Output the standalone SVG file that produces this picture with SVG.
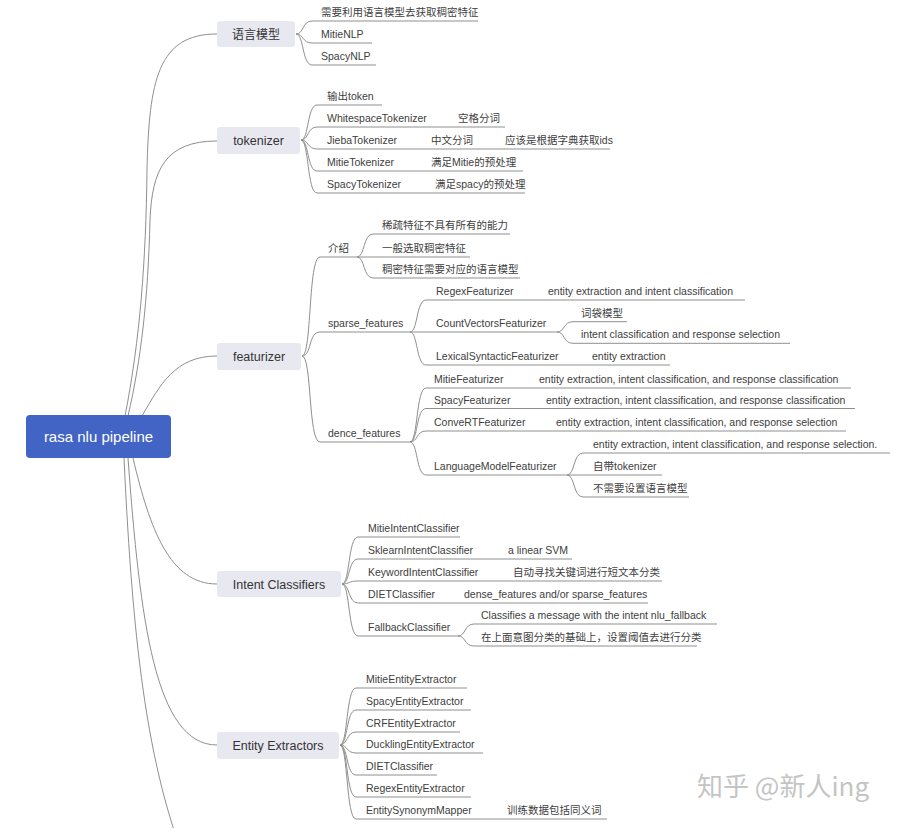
<svg xmlns="http://www.w3.org/2000/svg" width="900" height="828" viewBox="0 0 900 828">
<style>
.t{font-family:"Liberation Sans","Noto Sans CJK SC",sans-serif;font-size:10.5px;fill:#404040}
.b{font-family:"Liberation Sans","Noto Sans CJK SC",sans-serif;font-size:12.5px;fill:#333;text-anchor:middle}
.bx{fill:#E8E8F1}
.ln{fill:none;stroke:#8f8f8f;stroke-width:1}
.wm{font-family:"Noto Sans CJK SC",sans-serif;font-size:26px;fill:#c4c4c4}
</style>
<rect width="900" height="828" fill="#ffffff"/>
<g id="connectors" class="ln">
<path d="M125,416 C140,340 146,260 147,170 C149,80 158,34 217,34"/>
<path d="M128,416 C141,360 148,300 150,220 C152,170 165,141 217,141"/>
<path d="M142,416 C160,385 175,356 217,356"/>
<path d="M133,458 C150,530 170,584 217,584"/>
<path d="M128,458 C140,620 155,745 217,745"/>
<path d="M124,458 C133,650 148,780 195,885"/>
<path d="M296,34 C304,34 302,21 312,21 H478"/>
<path d="M296,34 C304,34 302,43 312,43 H372"/>
<path d="M296,34 C304,34 302,65 312,65 H376"/>
<path d="M301,140 C309,140 307,105 317,105 H382"/>
<path d="M301,140 C309,140 307,127 317,127 H505"/>
<path d="M301,140 C309,140 307,149 317,149 H610"/>
<path d="M301,140 C309,140 307,171 317,171 H523"/>
<path d="M301,140 C309,140 307,193 317,193 H525"/>
<path d="M302,356 C312,356 308,257 320,257 H357"/>
<path d="M302,356 C312,356 308,332 320,332 H410"/>
<path d="M302,356 C312,356 308,442 320,442 H410"/>
<path d="M357,257 C365,257 363,234 373,234 H510"/>
<path d="M357,257 H470"/>
<path d="M357,257 C365,257 363,278 373,278 H520"/>
<path d="M410,332 C418,332 416,300 426,300 H745"/>
<path d="M410,332 H557"/>
<path d="M410,332 C418,332 416,365 426,365 H670"/>
<path d="M557,332 C565,332 563,321.7 573,321.7 H627"/>
<path d="M557,332 C565,332 563,343.3 573,343.3 H790"/>
<path d="M410,442 C418,442 416,388 426,388 H851"/>
<path d="M410,442 C418,442 416,408.5 426,408.5 H855"/>
<path d="M410,442 C418,442 416,431 426,431 H846"/>
<path d="M410,442 C418,442 416,475 426,475 H567"/>
<path d="M567,475 C575,475 573,453 583,453 H890"/>
<path d="M567,475 H662"/>
<path d="M567,475 C575,475 573,497 583,497 H689"/>
<path d="M342,584 C350,584 348,537 358,537 H460"/>
<path d="M342,584 C350,584 348,559 358,559 H572"/>
<path d="M342,584 C350,584 348,581 358,581 H662"/>
<path d="M342,584 C350,584 348,603 358,603 H648"/>
<path d="M342,584 C350,584 348,636 358,636 H458"/>
<path d="M458,636 C466,636 464,624 474,624 H717"/>
<path d="M458,636 C466,636 464,646 474,646 H697"/>
<path d="M340,745 C348,745 346,688 356,688 H467"/>
<path d="M340,745 C348,745 346,710 356,710 H471"/>
<path d="M340,745 C348,745 346,732 356,732 H460"/>
<path d="M340,745 C348,745 346,753 356,753 H483"/>
<path d="M340,745 C348,745 346,775 356,775 H437"/>
<path d="M340,745 C348,745 346,797 356,797 H471"/>
<path d="M340,745 C348,745 346,819 356,819 H607"/>
</g>
<g id="root"><rect x="26" y="415" width="145" height="43" rx="4" fill="#4264C5"/><text x="98.5" y="442" style="font-family:'Liberation Sans','Noto Sans CJK SC',sans-serif;font-size:15px;fill:#fff;text-anchor:middle">rasa nlu pipeline</text></g>
<g id="n-lm"><rect class="bx" x="217" y="21" width="78" height="26" rx="3"/><text class="b" x="256" y="38.5" style="font-size:12px">语言模型</text></g>
<g id="n-lm1"><text class="t" x="321" y="16">需要利用语言模型去获取稠密特征</text></g>
<g id="n-lm2"><text class="t" x="321" y="38">MitieNLP</text></g>
<g id="n-lm3"><text class="t" x="321" y="60">SpacyNLP</text></g>
<g id="n-tok"><rect class="bx" x="217" y="127" width="83" height="27" rx="3"/><text class="b" x="258.5" y="145">tokenizer</text></g>
<g id="n-tok1"><text class="t" x="327" y="100">输出token</text></g>
<g id="n-tok2"><text class="t" x="327" y="122">WhitespaceTokenizer</text></g>
<g id="n-tok2a"><text class="t" x="458" y="122">空格分词</text></g>
<g id="n-tok3"><text class="t" x="327" y="144">JiebaTokenizer</text></g>
<g id="n-tok3a"><text class="t" x="431" y="144">中文分词</text></g>
<g id="n-tok3b"><text class="t" x="505" y="144">应该是根据字典获取ids</text></g>
<g id="n-tok4"><text class="t" x="327" y="166">MitieTokenizer</text></g>
<g id="n-tok4a"><text class="t" x="431" y="166">满足Mitie的预处理</text></g>
<g id="n-tok5"><text class="t" x="327" y="188">SpacyTokenizer</text></g>
<g id="n-tok5a"><text class="t" x="435" y="188">满足spacy的预处理</text></g>
<g id="n-feat"><rect class="bx" x="217" y="343" width="84" height="27" rx="3"/><text class="b" x="259" y="361">featurizer</text></g>
<g id="n-intro"><text class="t" x="328" y="252">介绍</text></g>
<g id="n-intro1"><text class="t" x="382" y="229">稀疏特征不具有所有的能力</text></g>
<g id="n-intro2"><text class="t" x="382" y="252">一般选取稠密特征</text></g>
<g id="n-intro3"><text class="t" x="382" y="273">稠密特征需要对应的语言模型</text></g>
<g id="n-sparse"><text class="t" x="328" y="327">sparse_features</text></g>
<g id="n-sp1"><text class="t" x="436" y="295">RegexFeaturizer</text></g>
<g id="n-sp1a"><text class="t" x="548" y="295">entity extraction and intent classification</text></g>
<g id="n-sp2"><text class="t" x="436" y="327">CountVectorsFeaturizer</text></g>
<g id="n-sp2a"><text class="t" x="581" y="316.7">词袋模型</text></g>
<g id="n-sp2b"><text class="t" x="581" y="338.3">intent classification and response selection</text></g>
<g id="n-sp3"><text class="t" x="436" y="360">LexicalSyntacticFeaturizer</text></g>
<g id="n-sp3a"><text class="t" x="592" y="360">entity extraction</text></g>
<g id="n-dence"><text class="t" x="328" y="437">dence_features</text></g>
<g id="n-de1"><text class="t" x="434" y="383">MitieFeaturizer</text></g>
<g id="n-de1a"><text class="t" x="539" y="383">entity extraction, intent classification, and response classification</text></g>
<g id="n-de2"><text class="t" x="434" y="403.5">SpacyFeaturizer</text></g>
<g id="n-de2a"><text class="t" x="546" y="403.5">entity extraction, intent classification, and response classification</text></g>
<g id="n-de3"><text class="t" x="434" y="426">ConveRTFeaturizer</text></g>
<g id="n-de3a"><text class="t" x="556" y="426">entity extraction, intent classification, and response selection</text></g>
<g id="n-de4"><text class="t" x="434" y="470">LanguageModelFeaturizer</text></g>
<g id="n-de4a"><text class="t" x="593" y="448">entity extraction, intent classification, and response selection.</text></g>
<g id="n-de4b"><text class="t" x="593" y="470">自带tokenizer</text></g>
<g id="n-de4c"><text class="t" x="593" y="492">不需要设置语言模型</text></g>
<g id="n-intent"><rect class="bx" x="217" y="571" width="124" height="26" rx="3"/><text class="b" x="279" y="588.5">Intent Classifiers</text></g>
<g id="n-ic1"><text class="t" x="368" y="532">MitieIntentClassifier</text></g>
<g id="n-ic2"><text class="t" x="368" y="554">SklearnIntentClassifier</text></g>
<g id="n-ic2a"><text class="t" x="508" y="554">a linear SVM</text></g>
<g id="n-ic3"><text class="t" x="368" y="576">KeywordIntentClassifier</text></g>
<g id="n-ic3a"><text class="t" x="513" y="576">自动寻找关键词进行短文本分类</text></g>
<g id="n-ic4"><text class="t" x="368" y="598">DIETClassifier</text></g>
<g id="n-ic4a"><text class="t" x="464" y="598">dense_features and/or sparse_features</text></g>
<g id="n-ic5"><text class="t" x="368" y="631">FallbackClassifier</text></g>
<g id="n-ic5a"><text class="t" x="481" y="619">Classifies a message with the intent nlu_fallback</text></g>
<g id="n-ic5b"><text class="t" x="481" y="641">在上面意图分类的基础上，设置阈值去进行分类</text></g>
<g id="n-entity"><rect class="bx" x="217" y="732" width="122" height="27" rx="3"/><text class="b" x="278" y="749.5">Entity Extractors</text></g>
<g id="n-ee1"><text class="t" x="366" y="683">MitieEntityExtractor</text></g>
<g id="n-ee2"><text class="t" x="366" y="705">SpacyEntityExtractor</text></g>
<g id="n-ee3"><text class="t" x="366" y="727">CRFEntityExtractor</text></g>
<g id="n-ee4"><text class="t" x="366" y="748">DucklingEntityExtractor</text></g>
<g id="n-ee5"><text class="t" x="366" y="770">DIETClassifier</text></g>
<g id="n-ee6"><text class="t" x="366" y="792">RegexEntityExtractor</text></g>
<g id="n-ee7"><text class="t" x="366" y="814">EntitySynonymMapper</text></g>
<g id="n-ee7a"><text class="t" x="507" y="814">训练数据包括同义词</text></g>
<text class="wm" x="697" y="796">知乎 @新人ing</text>
</svg>
